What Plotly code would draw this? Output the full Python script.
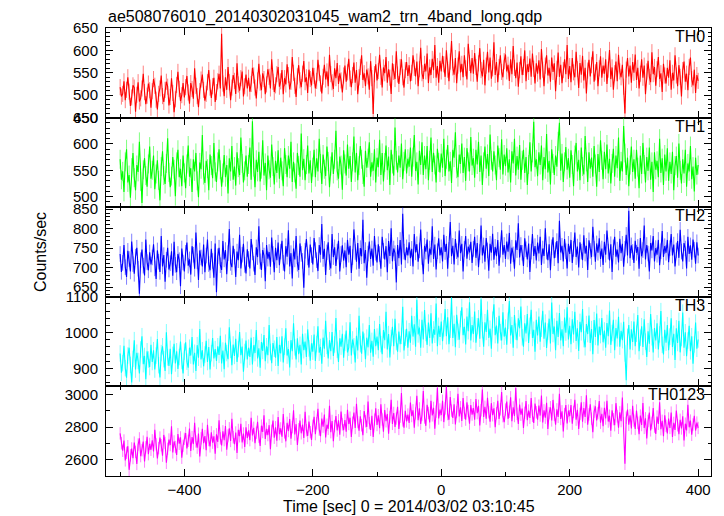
import numpy as np
import plotly.graph_objects as go
from plotly.subplots import make_subplots

# ---------------- data (2 s bins starting at -500 s) ----------------
TIME_START, TIME_STEP = -500, 2

TH0 = [
    518, 497, 503, 531, 489, 512, 540, 508, 476, 495, 522, 517, 463, 501, 529, 486, 493, 515, 548, 507, 480, 499, 526, 511, 472,
    509, 536, 521, 490, 468, 503, 515, 544, 498, 485, 512, 530, 519, 477, 496, 538, 505, 462, 491, 523, 552, 514, 487, 500, 527,
    495, 518, 543, 506, 481, 527, 514, 492, 560, 521, 498, 473, 509, 535, 546, 512, 488, 503, 529, 556, 517, 494, 520, 539, 485,
    507, 531, 548, 515, 637, 526, 498, 540, 512, 563, 529, 489, 517, 545, 532, 503, 571, 524, 510, 538, 553, 497, 520, 546, 515,
    539, 508, 525, 561, 544, 517, 493, 533, 570, 528, 511, 549, 536, 502, 524, 558, 541, 515, 580, 530, 507, 522, 547, 563, 519,
    531, 556, 502, 538, 524, 569, 545, 513, 530, 585, 550, 521, 496, 542, 567, 533, 518, 548, 576, 529, 540, 505, 557, 536, 522,
    561, 543, 515, 532, 579, 550, 526, 504, 541, 568, 535, 553, 520, 590, 547, 529, 514, 560, 538, 572, 525, 549, 533, 506, 544,
    566, 530, 551, 581, 537, 518, 545, 573, 528, 556, 502, 540, 563, 589, 534, 549, 520, 557, 542, 512, 576, 538, 458, 547, 569,
    533, 554, 590, 541, 517, 562, 549, 585, 528, 558, 539, 503, 571, 552, 536, 598, 546, 525, 563, 580, 540, 517, 556, 574, 543,
    567, 531, 550, 589, 561, 542, 575, 520, 558, 606, 549, 536, 570, 553, 593, 527, 562, 545, 581, 556, 612, 539, 565, 528, 577,
    553, 588, 569, 541, 600, 557, 531, 575, 621, 562, 546, 583, 527, 566, 598, 551, 570, 540, 589, 560, 535, 615, 572, 549, 583,
    548, 594, 563, 530, 571, 605, 556, 542, 579, 522, 566, 597, 551, 584, 537, 560, 618, 545, 574, 529, 563, 589, 552, 540, 576,
    591, 553, 568, 532, 580, 547, 610, 561, 538, 573, 519, 556, 587, 545, 563, 600, 531, 569, 552, 582, 541, 593, 559, 526, 571,
    548, 578, 535, 603, 557, 520, 566, 589, 544, 561, 530, 584, 552, 571, 509, 559, 595, 541, 568, 527, 556, 580, 547, 612, 536,
    565, 529, 583, 551, 540, 597, 558, 516, 572, 546, 588, 533, 561, 504, 555, 579, 542, 567, 598, 530, 551, 574, 520, 560, 587,
    539, 566, 548, 580, 525, 557, 601, 536, 562, 512, 549, 575, 531, 590, 553, 540, 568, 519, 459, 557, 583, 542, 566, 528, 574,
    550, 591, 534, 561, 515, 548, 580, 539, 566, 502, 553, 577, 541, 529, 596, 547, 563, 521, 558, 585, 536, 549, 507, 570, 544,
    526, 561, 539, 578, 512, 550, 533, 589, 544, 520, 567, 541, 497, 556, 575, 530, 548, 511, 563, 584, 536, 522, 557, 505, 545,
    532,
]

TH1 = [
    571, 532, 548, 509, 566, 590, 527, 541, 498, 555, 583, 536, 512, 560, 547, 604, 529, 488, 551, 573, 540, 519, 562, 595, 534,
    550, 578, 514, 543, 569, 531, 493, 557, 586, 540, 524, 563, 611, 546, 518, 539, 575, 552, 501, 566, 589, 537, 553, 520, 578,
    545, 516, 562, 597, 538, 554, 509, 571, 548, 583, 530, 499, 565, 552, 617, 541, 526, 568, 553, 512, 580, 559, 535, 602, 547,
    528, 566, 590, 551, 519, 545, 579, 537, 560, 506, 573, 548, 596, 532, 557, 521, 584, 555, 541, 612, 563, 527, 549, 578, 538,
    561, 593, 532, 643, 556, 518, 570, 547, 585, 529, 552, 607, 540, 564, 512, 578, 551, 536, 599, 557, 523, 568, 545, 588, 534,
    574, 549, 520, 592, 561, 537, 578, 553, 604, 528, 566, 545, 515, 583, 559, 538, 620, 550, 572, 531, 561, 597, 544, 569, 526,
    556, 589, 537, 573, 548, 610, 563, 524, 580, 552, 539, 595, 567, 518, 558, 584, 543, 571, 625, 549, 534, 576, 560, 513, 588,
    562, 540, 599, 553, 577, 528, 566, 614, 546, 583, 531, 559, 596, 571, 542, 519, 587, 555, 573, 603, 538, 565, 549, 590, 527,
    574, 556, 608, 541, 583, 529, 565, 597, 550, 576, 522, 589, 562, 540, 631, 569, 546, 578, 555, 601, 533, 567, 590, 544, 572,
    557, 593, 538, 575, 617, 549, 566, 523, 587, 560, 603, 541, 578, 552, 596, 531, 569, 612, 547, 583, 560, 527, 591, 565, 546,
    582, 555, 610, 539, 571, 598, 548, 567, 526, 589, 574, 622, 553, 537, 580, 562, 601, 545, 575, 530, 592, 566, 548, 613, 559,
    573, 536, 589, 561, 604, 547, 578, 522, 566, 595, 553, 581, 539, 618, 569, 548, 586, 560, 531, 597, 574, 551, 609, 542, 580,
    558, 592, 546, 571, 527, 586, 563, 610, 540, 577, 551, 598, 532, 569, 589, 545, 575, 522, 561, 603, 548, 583, 642, 556, 571,
    539, 584, 560, 597, 531, 575, 552, 619, 546, 568, 523, 590, 563, 541, 578, 557, 605, 640, 549, 582, 528, 566, 594, 551, 573,
    536, 588, 561, 520, 579, 602, 548, 570, 531, 593, 557, 542, 615, 566, 528, 584, 553, 574, 538, 596, 562, 519, 581, 547, 607,
    569, 533, 585, 552, 599, 544, 572, 525, 563, 591, 538, 578, 554, 612, 530, 567, 548, 634, 583, 541, 574, 520, 560, 595, 547,
    571, 534, 589, 556, 516, 578, 543, 602, 561, 527, 575, 549, 593, 532, 566, 509, 584, 551, 568, 537, 610, 545, 573, 522, 580,
    548, 592, 530, 566, 543, 585, 512, 559, 577, 536, 601, 550, 525, 571, 544, 589, 519, 563, 548, 596, 533, 557, 510, 574, 541,
    560,
]

TH2 = [
    735, 689, 712, 758, 701, 676, 743, 722, 690, 767, 709, 684, 728, 751, 697, 633, 719, 746, 705, 680, 772, 714, 693, 739, 708,
    726, 760, 698, 671, 744, 715, 689, 781, 703, 732, 664, 720, 751, 695, 711, 742, 679, 766, 707, 688, 735, 719, 652, 749, 713,
    690, 738, 764, 705, 721, 682, 755, 733, 697, 790, 716, 668, 744, 726, 703, 759, 688, 731, 772, 709, 693, 748, 717, 674, 762,
    637, 729, 751, 706, 694, 768, 721, 745, 683, 737, 799, 712, 701, 756, 728, 676, 741, 719, 784, 698, 733, 761, 707, 685, 747,
    722, 698, 773, 739, 710, 681, 752, 727, 806, 716, 694, 745, 731, 665, 758, 723, 740, 702, 777, 735, 688, 751, 719, 764, 706,
    741, 769, 712, 690, 755, 728, 796, 703, 737, 672, 749, 721, 781, 710, 694, 762, 735, 717, 648, 743, 773, 726, 700, 759, 732,
    708, 776, 745, 719, 691, 758, 733, 812, 722, 748, 681, 739, 765, 714, 698, 786, 727, 752, 704, 741, 769, 690, 735, 757, 718,
    744, 701, 771, 733, 756, 686, 727, 798, 740, 715, 763, 697, 750, 729, 823, 711, 745, 674, 736, 767, 722, 749, 705, 781, 738,
    713, 760, 735, 697, 779, 743, 721, 755, 688, 768, 730, 801, 716, 749, 737, 662, 758, 724, 771, 708, 838, 741, 719, 752, 731,
    765, 724, 748, 703, 786, 739, 760, 715, 744, 798, 727, 683, 756, 741, 772, 710, 749, 733, 806, 722, 759, 695, 742, 775, 731,
    752, 716, 784, 740, 761, 697, 745, 817, 729, 756, 708, 773, 742, 726, 795, 737, 761, 690, 748, 781, 723, 754, 739, 766, 712,
    748, 779, 725, 763, 701, 740, 808, 731, 757, 715, 776, 744, 692, 761, 738, 787, 720, 753, 729, 771, 705, 746, 796, 733, 758,
    722, 767, 741, 789, 710, 751, 734, 697, 770, 745, 814, 726, 758, 738, 704, 775, 747, 721, 762, 689, 741, 786, 730, 755, 718,
    764, 736, 779, 707, 749, 730, 801, 741, 719, 760, 693, 752, 778, 724, 745, 768, 711, 820, 739, 756, 716, 773, 742, 698, 761,
    735, 771, 712, 748, 790, 727, 754, 700, 765, 741, 719, 783, 736, 756, 694, 770, 743, 727, 805, 748, 715, 762, 738, 775, 722,
    749, 707, 766, 733, 795, 741, 718, 760, 689, 752, 779, 728, 746, 713, 774, 737, 761, 702, 748, 784, 731, 846, 724, 757, 740,
    712, 769, 738, 753, 697, 776, 729, 745, 808, 721, 758, 736, 690, 763, 744, 781, 716, 750, 733, 771, 706, 742, 794, 727, 755,
    738, 771, 714, 750, 786, 731, 759, 703, 744, 768, 725, 797, 741, 716, 763, 749, 698, 779, 735, 757, 720, 772, 746, 710, 765,
    731,
]

TH3 = [
    942, 888, 915, 963, 901, 874, 936, 958, 910, 861, 927, 979, 897, 944, 921, 886, 953, 990, 912, 935, 870, 948, 925, 904, 966,
    918, 951, 897, 936, 982, 909, 875, 943, 962, 926, 893, 1001, 931, 907, 955, 884, 938, 969, 914, 948, 899, 932, 975, 921, 886,
    947, 973, 919, 902, 958, 936, 988, 911, 944, 893, 965, 930, 1010, 925, 951, 906, 939, 977, 918, 960, 897, 943, 985, 928, 954,
    921, 962, 938, 991, 914, 950, 898, 972, 943, 926, 1015, 952, 909, 967, 935, 983, 918, 954, 1002, 937, 961, 891, 946, 978, 925,
    958, 932, 986, 911, 965, 943, 1007, 928, 956, 902, 974, 949, 993, 920, 962, 937, 1021, 946, 915, 971, 955, 930, 988, 907, 966,
    942, 990, 917, 961, 1012, 936, 954, 903, 979, 948, 1026, 959, 925, 984, 940, 966, 911, 997, 951, 975, 932, 1009, 956, 922, 970,
    947, 995, 921, 968, 1018, 944, 960, 913, 986, 955, 1033, 963, 928, 979, 948, 1002, 935, 967, 1041, 952, 918, 984, 961, 997, 930,
    972, 1006, 945, 958, 1029, 936, 981, 962, 917, 991, 950, 1047, 968, 941, 1003, 975, 926, 986, 959, 1021, 944, 977, 933, 1010, 962,
    989, 951, 1024, 968, 940, 1007, 979, 1058, 953, 996, 931, 985, 1016, 962, 1039, 974, 947, 1003, 968, 991, 1072, 950, 986, 1011, 958,
    1004, 972, 1047, 989, 1023, 961, 1092, 995, 1014, 958, 1036, 981, 1063, 999, 966, 1028, 985, 1054, 970, 1009, 994, 1081, 962, 1019, 988,
    1031, 976, 1012, 1066, 990, 1043, 968, 1008, 1097, 985, 1025, 959, 1050, 1002, 980, 1038, 1071, 993, 1016, 967, 1045, 1004, 1085, 978, 1021,
    996, 1059, 972, 1018, 1040, 983, 1093, 1007, 961, 1029, 1002, 1064, 985, 1011, 955, 1036, 1079, 993, 1020, 970, 1047, 1001, 978, 1057, 989,
    1014, 966, 1033, 1088, 992, 1021, 958, 1049, 1003, 979, 1040, 1012, 1073, 987, 961, 1026, 998, 1052, 971, 1019, 1064, 985, 1008, 947, 1036,
    992, 1045, 975, 1011, 1061, 983, 1028, 957, 1003, 1039, 970, 1084, 996, 1017, 951, 1033, 988, 1055, 978, 1009, 962, 1042, 1000, 1071, 981,
    1019, 968, 1037, 995, 1058, 977, 1012, 949, 1030, 1001, 1066, 982, 959, 1024, 996, 1048, 971, 1010, 940, 1035, 988, 1053, 964, 1017, 993,
    1041, 973, 1006, 958, 1027, 990, 1062, 966, 999, 1036, 951, 1013, 984, 1044, 961, 1005, 979, 1030, 942, 867, 988, 1021, 953, 1009, 974,
    1031, 962, 997, 1049, 948, 986, 1018, 960, 1037, 975, 932, 1004, 969, 1052, 987, 945, 1013, 978, 1026, 953, 995, 1060, 966, 939, 1008,
    972, 1021, 951, 989, 1040, 960, 997, 924, 1012, 971, 1033, 945, 985, 1056, 958, 1001, 934, 978, 1019, 948, 990, 913, 967, 1028, 955,
    981,
]

TH0123 = [
    2762, 2701, 2655, 2718, 2596, 2642, 2683, 2538, 2627, 2669, 2610, 2705, 2648, 2574, 2693, 2731, 2622, 2658, 2711, 2589, 2676, 2740, 2634, 2697, 2661,
    2719, 2650, 2783, 2694, 2608, 2671, 2736, 2689, 2625, 2752, 2703, 2581, 2667, 2724, 2690, 2805, 2645, 2712, 2678, 2629, 2757, 2698, 2737, 2612, 2685,
    2728, 2764, 2669, 2716, 2791, 2653, 2739, 2696, 2827, 2712, 2674, 2760, 2620, 2731, 2789, 2702, 2745, 2658, 2814, 2721, 2682, 2768, 2705, 2743, 2637,
    2756, 2709, 2842, 2731, 2688, 2774, 2720, 2806, 2662, 2749, 2793, 2715, 2851, 2738, 2695, 2767, 2642, 2783, 2744, 2820, 2706, 2761, 2679, 2799, 2733,
    2781, 2720, 2858, 2749, 2796, 2702, 2766, 2833, 2741, 2685, 2809, 2770, 2873, 2728, 2790, 2751, 2812, 2664, 2778, 2840, 2735, 2799, 2717, 2862, 2757,
    2792, 2741, 2880, 2768, 2713, 2826, 2776, 2849, 2729, 2800, 2903, 2755, 2818, 2690, 2787, 2841, 2762, 2815, 2733, 2894, 2781, 2746, 2834, 2769, 2721,
    2808, 2863, 2757, 2824, 2912, 2785, 2745, 2852, 2803, 2877, 2736, 2815, 2790, 2931, 2769, 2838, 2713, 2806, 2868, 2779, 2842, 2754, 2895, 2817, 2781,
    2843, 2772, 2906, 2819, 2858, 2740, 2827, 2889, 2795, 2944, 2831, 2778, 2867, 2812, 2751, 2899, 2836, 2801, 2957, 2824, 2783, 2870, 2740, 2846, 2915,
    2813, 2873, 2794, 2940, 2847, 2772, 2905, 2836, 2881, 2759, 2862, 2968, 2820, 2887, 2801, 2853, 2925, 2789, 2864, 3010, 2841, 2796, 2900, 2835, 2877,
    2826, 2951, 2868, 2903, 2797, 2884, 2993, 2842, 2915, 2820, 2876, 3022, 2859, 2808, 2937, 2887, 2829, 2961, 2872, 2918, 2790, 2895, 3041, 2853, 2908,
    2874, 2962, 2831, 2915, 3048, 2880, 2845, 2984, 2901, 2857, 2940, 2816, 2893, 3005, 2866, 2922, 2838, 2979, 2887, 2846, 2953, 2899, 2821, 2935, 2877,
    2917, 2845, 2972, 2886, 2931, 2810, 2904, 3031, 2863, 2925, 2852, 2980, 2891, 2834, 2947, 2873, 2916, 2799, 2885, 2962, 2850, 2909, 3016, 2867, 2830,
    2908, 2957, 2851, 2894, 2983, 2837, 2921, 2868, 3040, 2882, 2820, 2938, 2876, 2914, 2795, 2888, 2960, 2843, 2902, 2857, 2979, 2869, 2826, 2945, 2891,
    2846, 2932, 2871, 2994, 2829, 2903, 2858, 2950, 2788, 2886, 2922, 2841, 2967, 2876, 2815, 2909, 2863, 3004, 2850, 2897, 2773, 2880, 2935, 2822, 2901,
    2867, 2935, 2821, 2893, 2968, 2846, 2906, 2789, 2881, 2953, 2834, 2917, 2862, 2995, 2815, 2878, 2940, 2852, 2769, 2895, 2928, 2841, 2886, 2960, 2827,
    2882, 2806, 2919, 2853, 2961, 2834, 2870, 2778, 2903, 2849, 2812, 2947, 2866, 2796, 2891, 2837, 2982, 2823, 2575, 2858, 2908, 2815, 2873, 2792, 2931,
    2840, 2789, 2902, 2826, 2757, 2871, 2813, 2948, 2795, 2854, 2731, 2838, 2889, 2780, 2826, 2917, 2803, 2758, 2865, 2820, 2952, 2787, 2839, 2744, 2872,
    2808, 2761, 2853, 2795, 2889, 2740, 2826, 2783, 2902, 2811, 2757, 2845, 2792, 2866, 2718, 2821, 2780, 2937, 2799, 2840, 2753, 2816, 2870, 2779, 2828,
    2795,
]

BANDS = ["TH0", "TH1", "TH2", "TH3", "TH0123"]
SERIES = [TH0, TH1, TH2, TH3, TH0123]
ERRORS = [18, 18, 20, 23, 38]
COLORS = ["#ff0000", "#00ff00", "#0000ff", "#00ffff", "#ff00ff"]
ERR_COLORS = ["rgba(255,0,0,0.5)", "rgba(0,255,0,0.5)", "rgba(0,0,255,0.5)",
              "rgba(0,255,255,0.5)", "rgba(255,0,255,0.5)"]
Y_RANGES = [[450, 650], [480, 650], [625, 855], [850, 1100], [2500, 3050]]
Y_DTICK = [50, 50, 50, 100, 200]
Y_MINOR = [10, 10, 10, 20, 100]

TITLE = "ae508076010_20140302031045_wam2_trn_4band_long.qdp"
XTITLE = "Time [sec] 0 = 2014/03/02 03:10:45"
YTITLE = "Counts/sec"

FONT = "Liberation Sans, Arial, Helvetica, sans-serif"

fig = make_subplots(rows=5, cols=1, shared_xaxes=True, vertical_spacing=0)

for i, (name, vals) in enumerate(zip(BANDS, SERIES)):
    t = TIME_START + TIME_STEP * np.arange(len(vals))
    fig.add_trace(go.Scatter(
        x=t, y=vals, mode="lines", name=name,
        line=dict(color=COLORS[i], width=1.1),
        error_y=dict(type="constant", value=ERRORS[i], color=ERR_COLORS[i],
                     thickness=1, width=0),
        showlegend=False,
    ), row=i + 1, col=1)

    fig.update_yaxes(
        range=Y_RANGES[i], dtick=Y_DTICK[i], tick0=0,
        ticks="inside", ticklen=7, tickwidth=1, tickcolor="black",
        minor=dict(dtick=Y_MINOR[i], ticks="inside", ticklen=3.5, tickcolor="black", tickwidth=1),
        showline=True, linecolor="black", linewidth=1, mirror="allticks",
        showgrid=False, zeroline=False,
        tickfont=dict(family=FONT, size=15, color="black"),
        ticklabelstandoff=4,
        row=i + 1, col=1,
    )
    fig.add_annotation(
        text=name, xref="x domain", yref="y domain" if i == 0 else f"y{i+1} domain",
        x=0.994, y=1, xanchor="right", yanchor="top", yshift=2, showarrow=False,
        font=dict(family=FONT, size=16, color="black"),
    )

fig.update_xaxes(
    range=[-522, 420], dtick=200, tick0=0,
    ticks="inside", ticklen=7, tickwidth=1, tickcolor="black",
    minor=dict(dtick=100, ticks="inside", ticklen=4, tickcolor="black", tickwidth=1),
    showline=True, linecolor="black", linewidth=1, mirror="allticks",
    showgrid=False, zeroline=False,
    tickfont=dict(family=FONT, size=15, color="black"),
)

fig.add_annotation(text=TITLE, xref="paper", yref="paper", x=0, y=1, xanchor="left",
                   yanchor="bottom", yshift=0, showarrow=False,
                   font=dict(family=FONT, size=16, color="black"))
fig.add_annotation(text=XTITLE, xref="paper", yref="paper", x=0.5, y=0, xanchor="center",
                   yanchor="middle", yshift=-30, showarrow=False,
                   font=dict(family=FONT, size=16, color="black"))
fig.add_annotation(text=YTITLE, xref="paper", yref="paper", x=0, y=0.5, xanchor="center",
                   yanchor="middle", xshift=-66, textangle=-90, showarrow=False,
                   font=dict(family=FONT, size=16, color="black"))

# the page body adds an 8 px offset, so the figure is drawn 8 px smaller
fig.update_layout(
    width=716, height=508,
    margin=dict(l=98, r=13, t=20, b=40),
    plot_bgcolor="white", paper_bgcolor="white",
    font=dict(family=FONT, color="black"),
)

fig.write_html("out.html")
